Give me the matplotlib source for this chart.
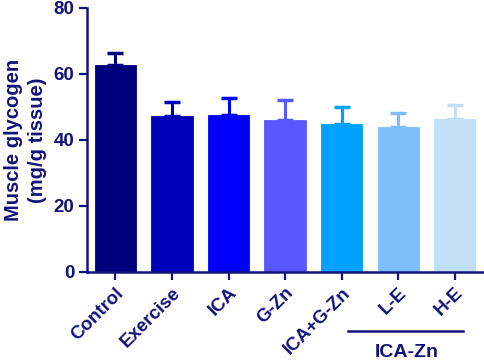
import matplotlib
matplotlib.use("Agg")
import matplotlib.pyplot as plt
import matplotlib.transforms as mtransforms

# data
groups = ["Control", "Exercise", "ICA", "G-Zn", "ICA+G-Zn", "L-E", "H-E"]
means = [62.6, 47.2, 47.7, 46.1, 44.9, 44.0, 46.4]
sems = [3.8, 4.4, 5.1, 5.9, 5.2, 4.1, 4.2]
colors = ["#00007F", "#0000BB", "#0000FF", "#5858FF", "#00A2FF", "#7CBFFA", "#C2DFF8"]
bracket_label = "ICA-Zn"

navy = "#12127A"
plt.rcParams["font.family"] = ["Liberation Sans", "DejaVu Sans"]
plt.rcParams["font.weight"] = "bold"

fig = plt.figure(figsize=(4.84, 3.62), dpi=100)
ax = fig.add_axes([0.18, 0.249, 0.818, 0.729])

x = list(range(len(groups)))
ax.bar(x, means, width=0.73, color=colors, edgecolor=colors, linewidth=0.6, zorder=2)
for xi, m, s, c in zip(x, means, sems, colors):
    ax.errorbar(xi, m, yerr=[[0], [s]], fmt="none", ecolor=c, elinewidth=2.2,
                capsize=6, capthick=2.5, zorder=1)

ax.set_xlim(-0.5, 6.5)
ax.set_ylim(0, 80)
ax.set_yticks([0, 20, 40, 60, 80])
ax.set_xticks(x)
ax.set_xticklabels(groups, rotation=45, ha="right", rotation_mode="anchor")

for side in ["top", "right"]:
    ax.spines[side].set_visible(False)
for side in ["left", "bottom"]:
    ax.spines[side].set_linewidth(1.8)
    ax.spines[side].set_color(navy)
ax.tick_params(axis="both", colors=navy, width=1.6, length=6, labelsize=13.5,
               labelcolor=navy, pad=3)

ax.set_ylabel("Muscle glycogen\n(mg/g tissue)", fontsize=14.5, fontweight="bold",
              color=navy, labelpad=5, linespacing=1.3)

# bracket under the ICA-Zn groups
trans = mtransforms.blended_transform_factory(ax.transData, ax.transAxes)
ax.plot([4.12, 6.15], [-0.223, -0.223], color=navy, lw=1.8, transform=trans, clip_on=False)
ax.text(5.15, -0.305, bracket_label, transform=trans, ha="center", va="center",
        fontsize=14, fontweight="bold", color=navy)

fig.savefig("out.png", dpi=100)
